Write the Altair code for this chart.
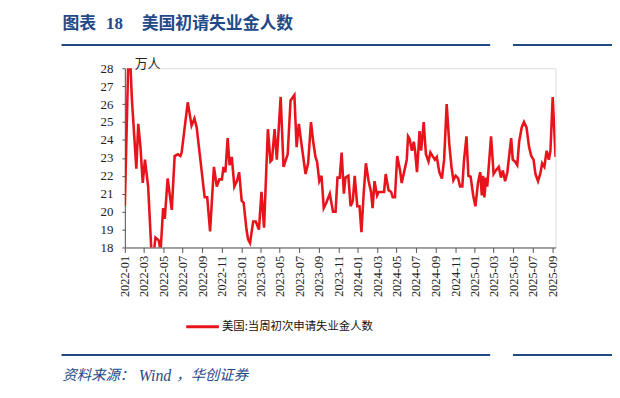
import altair as alt
import pandas as pd

# Weekly initial jobless claims (万人), vertices
dates = [
    "2022-01-01", "2022-01-12", "2022-01-18", "2022-01-23", "2022-02-06", "2022-02-12",
    "2022-02-19", "2022-02-26", "2022-03-05", "2022-03-09", "2022-03-15", "2022-03-26",
    "2022-03-30", "2022-04-07", "2022-04-17", "2022-04-23", "2022-05-01", "2022-05-06",
    "2022-05-15", "2022-05-28", "2022-06-06", "2022-06-16", "2022-06-24", "2022-06-28",
    "2022-07-17", "2022-07-29", "2022-08-07", "2022-08-14", "2022-09-08", "2022-09-16",
    "2022-09-25", "2022-10-07", "2022-10-16", "2022-10-24", "2022-11-01", "2022-11-06",
    "2022-11-12", "2022-11-19", "2022-11-25", "2022-12-02", "2022-12-10", "2022-12-18",
    "2022-12-25", "2023-01-02", "2023-01-08", "2023-01-17", "2023-01-22", "2023-01-28",
    "2023-02-07", "2023-02-15", "2023-02-25", "2023-03-05", "2023-03-13", "2023-03-25",
    "2023-04-02", "2023-04-07", "2023-04-15", "2023-04-22", "2023-05-04", "2023-05-13",
    "2023-05-26", "2023-06-04", "2023-06-16", "2023-06-23", "2023-06-30", "2023-07-08",
    "2023-07-21", "2023-07-29", "2023-08-07", "2023-08-14", "2023-08-21", "2023-08-26",
    "2023-09-02", "2023-09-09", "2023-09-16", "2023-09-24", "2023-10-05", "2023-10-15",
    "2023-10-23", "2023-10-29", "2023-11-05", "2023-11-11", "2023-11-18", "2023-11-23",
    "2023-12-02", "2023-12-09", "2023-12-16", "2023-12-22", "2023-12-30", "2024-01-06",
    "2024-01-12", "2024-01-19", "2024-01-26", "2024-02-03", "2024-02-11", "2024-02-16",
    "2024-02-22", "2024-03-01", "2024-03-06", "2024-03-23", "2024-03-28", "2024-04-06",
    "2024-04-14", "2024-04-19", "2024-04-26", "2024-05-03", "2024-05-12", "2024-05-17",
    "2024-05-27", "2024-06-02", "2024-06-06", "2024-06-11", "2024-06-18", "2024-06-24",
    "2024-06-28", "2024-07-04", "2024-07-12", "2024-07-17", "2024-07-25", "2024-08-01",
    "2024-08-09", "2024-08-15", "2024-08-22", "2024-08-29", "2024-09-04", "2024-09-12",
    "2024-09-20", "2024-09-27", "2024-10-05", "2024-10-13", "2024-10-20", "2024-10-26",
    "2024-11-02", "2024-11-10", "2024-11-16", "2024-11-23", "2024-11-28", "2024-12-06",
    "2024-12-12", "2024-12-19", "2024-12-27", "2025-01-03", "2025-01-11", "2025-01-18",
    "2025-01-23", "2025-01-27", "2025-01-31", "2025-02-05", "2025-02-09", "2025-02-21",
    "2025-03-01", "2025-03-08", "2025-03-17", "2025-03-24", "2025-03-30", "2025-04-06",
    "2025-04-13", "2025-04-25", "2025-04-30", "2025-05-07", "2025-05-14", "2025-05-20",
    "2025-05-28", "2025-06-04", "2025-06-12", "2025-06-20", "2025-06-27", "2025-07-04",
    "2025-07-10", "2025-07-18", "2025-07-25", "2025-07-31", "2025-08-07", "2025-08-14",
    "2025-08-21", "2025-08-26", "2025-09-02", "2025-09-11",
]
values = [
    20.3, 28.6, 28.4, 26.3, 22.4, 24.9,
    23.6, 21.6, 22.9, 22.3, 21.4, 17.5,
    17.3, 18.55, 18.4, 17.8, 20.2, 19.6,
    21.85, 20.1, 23.1, 23.2, 23.1, 23.3,
    26.1, 24.8, 25.2, 24.7, 20.8, 20.8,
    18.9, 22.5, 21.4, 21.8, 21.8, 22.5,
    22.2, 24.1, 22.6, 23.05, 21.4, 21.7,
    22.2, 20.6, 20.5, 19.0, 18.45, 18.25,
    19.45, 19.45, 19.0, 21.1, 19.1, 24.6,
    22.8, 22.9, 24.6, 22.9, 26.4, 22.5,
    23.2, 26.2, 26.5, 23.6, 24.9, 23.8,
    22.1, 22.7, 25.0, 23.9, 23.05, 22.8,
    21.7, 22.0, 20.2, 20.5, 21.0, 20.0,
    20.0, 21.9, 21.9, 23.3, 21.0, 21.9,
    22.0, 20.3, 20.6, 22.0, 20.3, 20.3,
    18.85, 21.0, 22.7, 21.75, 21.1, 20.2,
    21.7, 20.9, 21.1, 21.1, 22.1, 21.2,
    21.1, 20.8, 20.8, 23.1, 22.3, 21.6,
    22.4, 22.9, 24.2, 24.05, 23.4, 23.9,
    23.4, 22.2, 24.5, 23.4, 25.0, 23.2,
    22.8, 23.3, 23.1, 22.9, 23.05, 22.2,
    21.85, 22.9, 26.0, 23.8, 22.5, 21.75,
    22.0, 21.85, 21.4, 21.4, 22.8, 24.2,
    22.0, 21.95, 20.9, 20.3, 21.6, 22.2,
    20.9, 22.0, 20.8, 21.9, 21.4, 24.2,
    22.1, 22.3, 22.5, 21.9, 22.3, 21.7,
    22.2, 24.1, 22.9, 22.8, 22.6, 23.9,
    24.7, 25.0, 24.7, 23.6, 23.1, 22.9,
    22.1, 21.7, 22.1, 22.7, 22.5, 23.4,
    22.9, 23.4, 26.4, 23.05,
]

tick_years = [2022] * 6 + [2023] * 6 + [2024] * 6 + [2025] * 5
tick_months = [1, 3, 5, 7, 9, 11] * 3 + [1, 3, 5, 7, 9]

title_num = "图表"
title_no = "18"
title_text = "美国初请失业金人数"
unit_text = "万人"
legend_text = "美国:当周初次申请失业金人数"
source_label = "资料来源："
source_wind = "Wind"
source_rest = "，华创证券"

BLUE = "#1F4A87"
RED = "#E8141C"
W, H = 435, 181

df = pd.DataFrame({"date": dates, "value": values})
one = pd.DataFrame({"a": [0]})

tick_vals = [alt.DateTime(year=y, month=m, date=1, utc=True) for y, m in zip(tick_years, tick_months)]

line = alt.Chart(df).mark_line(color=RED, strokeWidth=2.6, clip=True).encode(
    x=alt.X(
        "date:T",
        scale=alt.Scale(type="utc", domain=[
            alt.DateTime(year=2022, month=1, date=1, utc=True),
            alt.DateTime(year=2025, month=9, date=11, utc=True)]),
        axis=alt.Axis(
            values=tick_vals, format="%Y-%m", title=None, labelAngle=270,
            labelFont="Liberation Serif", labelFontSize=12.5, labelColor="#222",
            tickSize=5, tickColor="#555", domainColor="#555", grid=False,
            labelPadding=3, labelOverlap=False, labelBaseline="middle", labelAlign="right",
        ),
    ),
    y=alt.Y(
        "value:Q",
        scale=alt.Scale(domain=[18, 28], nice=False, zero=False),
        axis=alt.Axis(
            values=list(range(18, 29)), title=None, grid=False,
            labelFont="Liberation Serif", labelFontSize=13, labelColor="#222",
            tickSize=3, tickColor="#555", domainColor="#555", labelPadding=9,
        ),
    ),
)


def txt(text, x, y, size, color="#000", font="Noto Sans CJK SC", weight="normal", style="normal"):
    return alt.Chart(one).mark_text(
        text=text, align="left", baseline="middle", fontSize=size, color=color,
        font=font, fontWeight=weight, fontStyle=style,
    ).encode(x=alt.value(x), y=alt.value(y))


def hrule(x1, x2, y, color, width):
    return alt.Chart(one).mark_rule(color=color, strokeWidth=width).encode(
        x=alt.value(x1), x2=alt.value(x2), y=alt.value(y))


# page -> plot coordinates: plot origin at page (126, 67)
layers = [
    line,
    txt(title_num, -63, -45, 17, BLUE, weight="bold"),
    txt(title_no, -19, -45, 17, BLUE, font="Liberation Serif", weight="bold"),
    txt(title_text, 17, -45, 17, BLUE, weight="bold"),
    hrule(-64, 369, -23.5, BLUE, 2),
    hrule(392, 492, -23.5, BLUE, 2),
    txt(unit_text, 10, -4, 13, "#222"),
    hrule(62, 95, 261, RED, 3),
    txt(legend_text, 98, 261, 11.5, "#111"),
    hrule(-64, 369, 289.5, BLUE, 2),
    hrule(392, 492, 289.5, BLUE, 2),
    txt(source_label, -63, 311, 14.5, BLUE, style="italic"),
    txt(source_wind, 14, 311, 16, BLUE, font="Liberation Serif", style="italic"),
    txt(source_rest, 52, 311, 14.5, BLUE, style="italic"),
]

chart = alt.layer(*layers).properties(
    width=W, height=H,
    autosize=alt.AutoSizeParams(type="none"),
    padding={"left": 118, "top": 59, "right": 57, "bottom": 135},
).configure_view(stroke=None).configure(background="white")

chart.save("out.html", embed_options={"renderer": "svg", "actions": False})
